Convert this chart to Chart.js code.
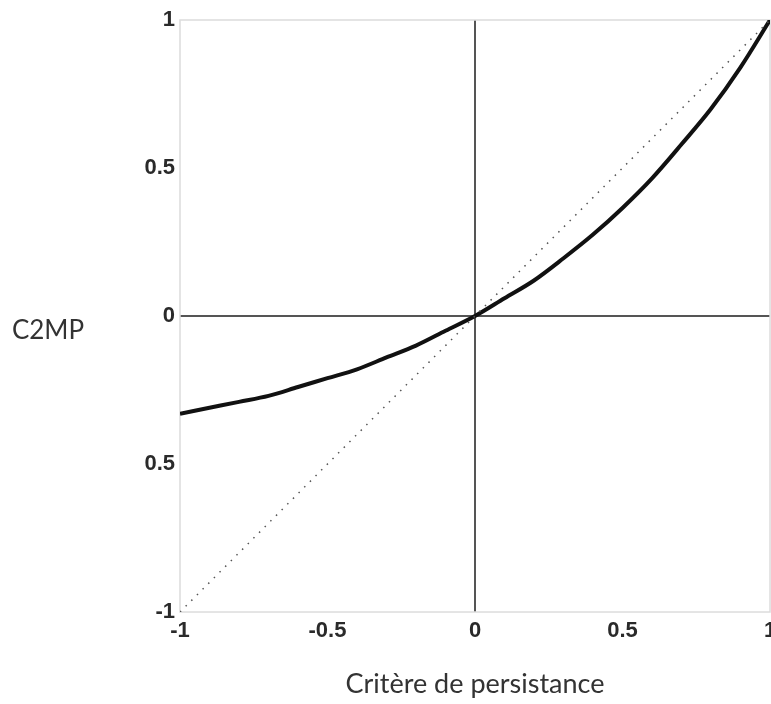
<!DOCTYPE html>
<html>
<head>
<meta charset="utf-8">
<script src="https://cdn.jsdelivr.net/npm/chart.js@4/dist/chart.umd.min.js"></script>
<style>
  html, body { margin: 0; padding: 0; background: #fff; overflow: hidden; }
  #wrap { width: 771px; height: 704px; overflow: hidden; }
  #wrap div { width: 790px; height: 704px; }
</style>
</head>
<body>
<div id="wrap"><div><canvas id="myChart"></canvas></div></div>
<script>
'use strict';
// values
var xValues = [-1, -0.9, -0.8, -0.7, -0.6, -0.5, -0.4, -0.3, -0.2, -0.1, 0, 0.1, 0.2, 0.3, 0.4, 0.5, 0.6, 0.7, 0.8, 0.9, 1];
var c2mpValues = [-0.33, -0.31, -0.29, -0.27, -0.24, -0.21, -0.18, -0.14, -0.10, -0.05, 0, 0.06, 0.12, 0.195, 0.275, 0.365, 0.465, 0.58, 0.70, 0.84, 1];
var diagX = [-1, 1];
var diagY = [-1, 1];
var yTicks = [-1, -0.5, 0, 0.5, 1];
var yTickLabels = ['-1', '0.5', '0', '0.5', '1']; // as printed (minus missing on -0.5)
var xTicks = [-1, -0.5, 0, 0.5, 1];
var xTickLabels = ['-1', '-0.5', '0', '0.5', '1'];

var curvePoints = xValues.map(function(x, i) { return { x: x, y: c2mpValues[i] }; });
var diagPoints = diagX.map(function(x, i) { return { x: x, y: diagY[i] }; });

var tickFont = { family: 'Liberation Sans, Arial, sans-serif', size: 22, weight: 'bold' };

// box around the plot + horizontal y title
var boxAndTitle = {
  id: 'boxAndTitle',
  beforeDatasetsDraw: function(chart) {
    var a = chart.chartArea;
    var ctx = chart.ctx;
    ctx.save();
    ctx.strokeStyle = '#dcdcdc';
    ctx.lineWidth = 1.5;
    ctx.strokeRect(a.left, a.top, a.right - a.left, a.bottom - a.top);
    ctx.restore();
  },
  afterDraw: function(chart) {
    var ctx = chart.ctx;
    ctx.save();
    ctx.font = '26px Lato, sans-serif';
    ctx.fillStyle = '#333';
    ctx.textAlign = 'center';
    ctx.textBaseline = 'middle';
    ctx.fillText('C2MP', 48, 331);
    ctx.restore();
  }
};

function zeroLineColor(context) {
  return context.tick && context.tick.value === 0 ? '#555' : 'rgba(0,0,0,0)';
}

var ctx = document.getElementById('myChart').getContext('2d');
new Chart(ctx, {
  type: 'scatter',
  data: {
    datasets: [
      {
        label: 'diagonale',
        data: diagPoints,
        showLine: true,
        borderColor: '#555',
        borderWidth: 1.5,
        borderDash: [1.5, 6.5],
        pointRadius: 0
      },
      {
        label: 'C2MP',
        data: curvePoints,
        showLine: true,
        borderColor: '#111',
        borderWidth: 4,
        cubicInterpolationMode: 'monotone',
        pointRadius: 0
      }
    ]
  },
  options: {
    responsive: true,
    maintainAspectRatio: false,
    animation: false,
    layout: { padding: { left: 0, right: 20, top: 20, bottom: 4 } },
    plugins: {
      legend: { display: false },
      tooltip: { enabled: false }
    },
    scales: {
      x: {
        type: 'linear',
        min: -1,
        max: 1,
        afterBuildTicks: function(scale) {
          scale.ticks = xTicks.map(function(v) { return { value: v }; });
        },
        afterFit: function(scale) { scale.height = 88; },
        ticks: {
          color: '#2a2a2a',
          font: tickFont,
          padding: 6,
          maxRotation: 0,
          callback: function(value) {
            var i = xTicks.indexOf(value);
            return i >= 0 ? xTickLabels[i] : '';
          }
        },
        grid: { color: zeroLineColor, lineWidth: 2, drawTicks: false },
        border: { display: false },
        title: {
          display: true,
          text: 'Critère de persistance',
          color: '#333',
          font: { family: 'Lato, sans-serif', size: 27 },
          padding: { top: 0, bottom: 0 }
        }
      },
      y: {
        type: 'linear',
        min: -1,
        max: 1,
        afterBuildTicks: function(scale) {
          scale.ticks = yTicks.map(function(v) { return { value: v }; });
        },
        afterFit: function(scale) { scale.width = 180; },
        ticks: {
          color: '#2a2a2a',
          font: tickFont,
          padding: 5,
          callback: function(value) {
            var i = yTicks.indexOf(value);
            return i >= 0 ? yTickLabels[i] : '';
          }
        },
        grid: { color: zeroLineColor, lineWidth: 2, drawTicks: false },
        border: { display: false }
      }
    }
  },
  plugins: [boxAndTitle]
});
</script>
</body>
</html>
